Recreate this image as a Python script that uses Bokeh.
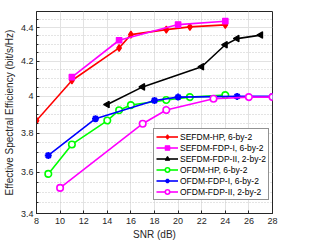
from bokeh.plotting import figure
from bokeh.models import Range1d, FixedTicker, Legend, LegendItem
from bokeh.embed import file_html
from bokeh.resources import INLINE
import math

# ---- data ----
snr_red = [8, 11, 15, 16, 19, 21, 24]
eff_red = [3.868, 4.089, 4.278, 4.358, 4.388, 4.405, 4.417]
snr_mag = [11, 15, 20, 24]
eff_mag = [4.108, 4.324, 4.419, 4.44]
snr_blk = [14, 17, 22, 24, 25, 27]
eff_blk = [3.955, 4.053, 4.168, 4.297, 4.334, 4.355]
snr_grn = [9, 11, 14, 15, 16, 19, 21, 24]
eff_grn = [3.592, 3.742, 3.868, 3.924, 3.952, 3.98, 3.996, 4.007]
snr_blu = [9, 13, 18, 20, 25, 28]
eff_blu = [3.685, 3.878, 3.977, 3.996, 4.0, 4.0]
snr_mc = [10, 17, 19, 23, 26, 28]
eff_mc = [3.523, 3.851, 3.925, 3.987, 3.996, 3.996]

series_names = ["SEFDM-HP, 6-by-2", "SEFDM-FDP-I, 6-by-2", "SEFDM-FDP-II, 2-by-2",
                "OFDM-HP, 6-by-2", "OFDM-FDP-I, 6-by-2", "OFDM-FDP-II, 2-by-2"]

x_ticks = [8, 10, 12, 14, 16, 18, 20, 22, 24, 26, 28]
y_ticks = [3.4, 3.6, 3.8, 4.0, 4.2, 4.4]
y_tick_labels = ["3.4", "3.6", "3.8", "4", "4.2", "4.4"]
y_minor = [3.45, 3.5, 3.55, 3.65, 3.7, 3.75, 3.85, 3.9, 3.95, 4.05, 4.1, 4.15,
           4.25, 4.3, 4.35, 4.45]

FONT = "Liberation Sans"
AX = "#262626"

p = figure(width=300, height=242, output_backend="svg", toolbar_location=None,
           y_axis_type="log", x_range=Range1d(8, 28), y_range=Range1d(3.4, 4.5),
           min_border_left=32, min_border_right=28, min_border_top=11, min_border_bottom=29)
p.outline_line_color = AX
p.outline_line_width = 1
p.background_fill_color = "white"
p.border_fill_color = "white"

yt = FixedTicker(ticks=y_ticks, minor_ticks=y_minor)
xt = FixedTicker(ticks=x_ticks, minor_ticks=[])

for ax in p.xaxis:
    ax.ticker = xt
for ax in p.yaxis:
    ax.ticker = yt
    ax.major_label_overrides = {t: l for t, l in zip(y_ticks, y_tick_labels)}

for ax in list(p.xaxis) + list(p.yaxis):
    ax.axis_line_color = AX
    ax.major_tick_line_color = AX
    ax.minor_tick_line_color = AX
    ax.major_tick_in = 3
    ax.major_tick_out = 0
    ax.minor_tick_in = 2
    ax.minor_tick_out = 0
    ax.major_label_text_font = FONT
    ax.major_label_text_font_size = "9px"
    ax.major_label_text_color = AX
    ax.axis_label_text_font = FONT
    ax.axis_label_text_font_size = "10px"
    ax.axis_label_text_font_style = "normal"
    ax.axis_label_text_color = AX

p.xaxis.axis_label = "SNR (dB)"
p.xaxis.major_label_standoff = 4
p.xaxis.axis_label_standoff = 2
p.yaxis.axis_label = "Effective Spectral Efficiency (bit/s/Hz)"
p.yaxis.major_label_standoff = 3
p.yaxis.axis_label_standoff = 3

p.xgrid.ticker = xt
p.ygrid.ticker = yt
p.xgrid.grid_line_color = "#e2e2e2"
p.ygrid.grid_line_color = "#e2e2e2"
p.ygrid.minor_grid_line_color = "#c8c8c8"
p.ygrid.minor_grid_line_dash = "1 2"

LW = 1.6
items = []

r1 = p.line(snr_red, eff_red, line_color="#ff0000", line_width=LW)
m1 = p.scatter(snr_red, eff_red, marker="diamond", size=7, line_color="#ff0000",
               fill_color="#ff0000", line_width=1.2)
items.append(LegendItem(label=series_names[0], renderers=[r1, m1]))

r2 = p.line(snr_mag, eff_mag, line_color="#ff00ff", line_width=LW)
m2 = p.scatter(snr_mag, eff_mag, marker="square", size=5.5, line_color="#ff00ff",
               fill_color="#ff00ff", line_width=1.2)
items.append(LegendItem(label=series_names[1], renderers=[r2, m2]))

r3 = p.line(snr_blk, eff_blk, line_color="#000000", line_width=LW)
m3 = p.scatter(snr_blk, eff_blk, marker="triangle", size=6.5, angle=math.pi / 2,
               line_color="#000000", fill_color="#000000", line_width=1.2)
items.append(LegendItem(label=series_names[2], renderers=[r3, m3]))

r4 = p.line(snr_grn, eff_grn, line_color="#00ff00", line_width=LW)
m4 = p.scatter(snr_grn, eff_grn, marker="circle", size=6.5, line_color="#00ff00",
               fill_color="white", line_width=1.6)
items.append(LegendItem(label=series_names[3], renderers=[r4, m4]))

r5 = p.line(snr_blu, eff_blu, line_color="#0000ff", line_width=LW)
m5 = p.scatter(snr_blu, eff_blu, marker="asterisk", size=7, line_color="#0000ff",
               line_width=2)
items.append(LegendItem(label=series_names[4], renderers=[r5, m5]))

r6 = p.line(snr_mc, eff_mc, line_color="#ff00ff", line_width=LW)
m6 = p.scatter(snr_mc, eff_mc, marker="circle", size=6.5, line_color="#ff00ff",
               fill_color="white", line_width=1.6)
items.append(LegendItem(label=series_names[5], renderers=[r6, m6]))

legend = Legend(items=items, location=(117, 13), orientation="vertical",
                label_text_font=FONT, label_text_font_size="8.5px", label_text_color="#000000",
                glyph_width=22, glyph_height=11, label_height=11, label_standoff=2,
                spacing=0, padding=2, margin=0,
                border_line_color=AX, border_line_width=1,
                background_fill_color="white", background_fill_alpha=1)
p.add_layout(legend, "center")

open("out.html", "w").write(file_html(p, INLINE))
